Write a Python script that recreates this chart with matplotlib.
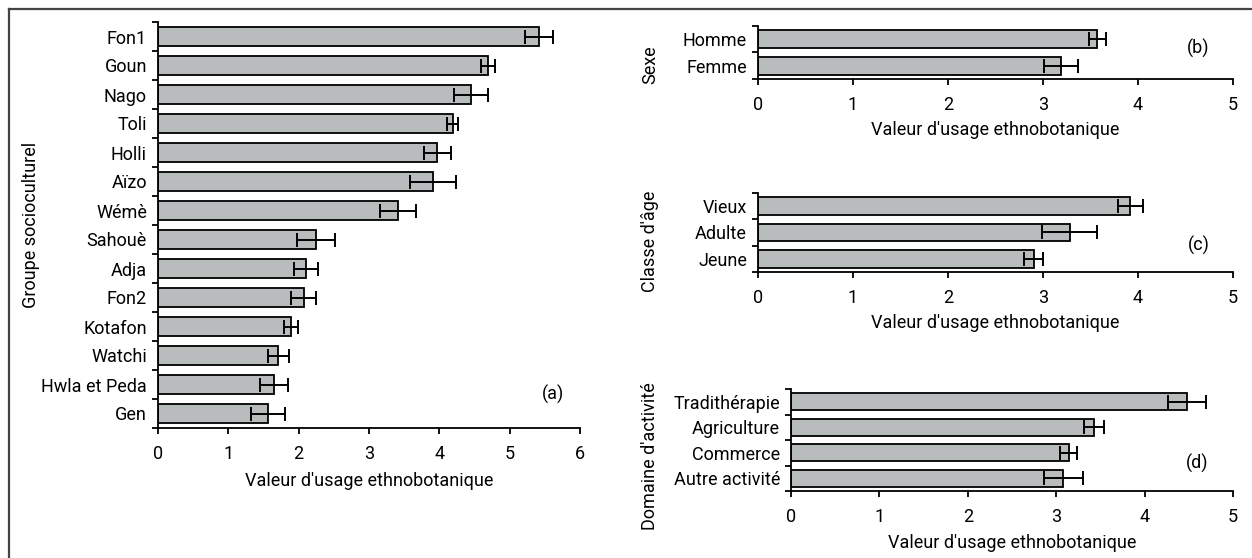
import matplotlib
matplotlib.use("Agg")
import matplotlib.pyplot as plt
from matplotlib.lines import Line2D

plt.rcParams['font.family'] = ['Roboto', 'DejaVu Sans']

## Datos
groupes = ["Fon1", "Goun", "Nago", "Toli", "Holli", "Aïzo", "Wémè", "Sahouè",
           "Adja", "Fon2", "Kotafon", "Watchi", "Hwla et Peda", "Gen"]
vue_groupes = [5.42, 4.69, 4.45, 4.19, 3.97, 3.91, 3.41, 2.25, 2.11, 2.07, 1.89, 1.71, 1.65, 1.56]
err_groupes = [0.20, 0.10, 0.24, 0.08, 0.19, 0.33, 0.26, 0.27, 0.17, 0.18, 0.10, 0.15, 0.20, 0.24]

sexes = ["Homme", "Femme"]
vue_sexes = [3.57, 3.19]
err_sexes = [0.09, 0.18]

ages = ["Vieux", "Adulte", "Jeune"]
vue_ages = [3.92, 3.28, 2.90]
err_ages = [0.13, 0.29, 0.10]

domaines = ["Tradithérapie", "Agriculture", "Commerce", "Autre activité"]
vue_domaines = [4.48, 3.43, 3.14, 3.08]
err_domaines = [0.21, 0.11, 0.10, 0.22]

W, H = 1252, 558
fig = plt.figure(figsize=(W / 100, H / 100), dpi=100)

def rect(x0, y0, x1, y1):
    ## pixeles -> fracciones de la figura
    return [x0 / W, 1 - y1 / H, (x1 - x0) / W, (y1 - y0) / H]

def px(x, y):
    return x / W, 1 - y / H

taille = 13

def panneau(pos, cats, vals, errs, xmax, ylabel, ylab_xy, xlab_y, lettre, lettre_xy):
    ax = fig.add_axes(pos)
    n = len(cats)
    ys = list(range(n))[::-1]
    ax.barh(ys, vals, height=0.67, color="#b8bcbc", edgecolor="black", linewidth=1.3,
            xerr=errs, error_kw=dict(ecolor="black", elinewidth=1.4, capsize=5, capthick=1.4))
    ax.set_xlim(0, xmax)
    ax.set_ylim(-0.5, n - 0.5)
    ax.set_xticks(range(xmax + 1))
    ax.set_yticks([i - 0.5 for i in range(n + 1)])
    ax.set_yticklabels([])
    ax.set_yticks(ys, labels=cats, minor=True)
    ax.tick_params(axis="y", which="minor", length=0, pad=8, labelsize=taille)
    ax.tick_params(axis="y", which="major", length=4, width=1.3, direction="out")
    ax.tick_params(axis="x", length=4, width=1.3, direction="out", labelsize=taille, pad=8)
    for s in ["top", "right"]:
        ax.spines[s].set_visible(False)
    for s in ["left", "bottom"]:
        ax.spines[s].set_linewidth(1.3)
    x0 = pos[0] + pos[2] / 2
    fig.text(x0, 1 - xlab_y / H, "Valeur d'usage ethnobotanique", ha="center", va="center", fontsize=taille)
    fig.text(*px(*ylab_xy), ylabel, rotation=90, ha="center", va="center", fontsize=taille)
    fig.text(*px(*lettre_xy), lettre, ha="center", va="center", fontsize=taille)
    return ax

panneau(rect(158, 22, 580, 428), groupes, vue_groupes, err_groupes, 6,
        "Groupe socioculturel", (31, 225), 481, "(a)", (553, 394))
panneau(rect(758, 26, 1233, 79), sexes, vue_sexes, err_sexes, 5,
        "Sexe", (650, 65), 130, "(b)", (1198, 48))
panneau(rect(758, 193, 1233, 272), ages, vue_ages, err_ages, 5,
        "Classe d'âge", (650, 241), 323, "(c)", (1199, 245))
panneau(rect(791, 389, 1233, 491), domaines, vue_domaines, err_domaines, 5,
        "Domaine d'activité", (650, 456), 543, "(d)", (1197, 463))

## marco superior e izquierdo
fig.add_artist(Line2D([9 / W, 1], [1 - 9 / H, 1 - 9 / H], transform=fig.transFigure, color="#444444", linewidth=1.6))
fig.add_artist(Line2D([9 / W, 9 / W], [0, 1 - 9 / H], transform=fig.transFigure, color="#444444", linewidth=1.6))

fig.savefig("out.png", dpi=100)
